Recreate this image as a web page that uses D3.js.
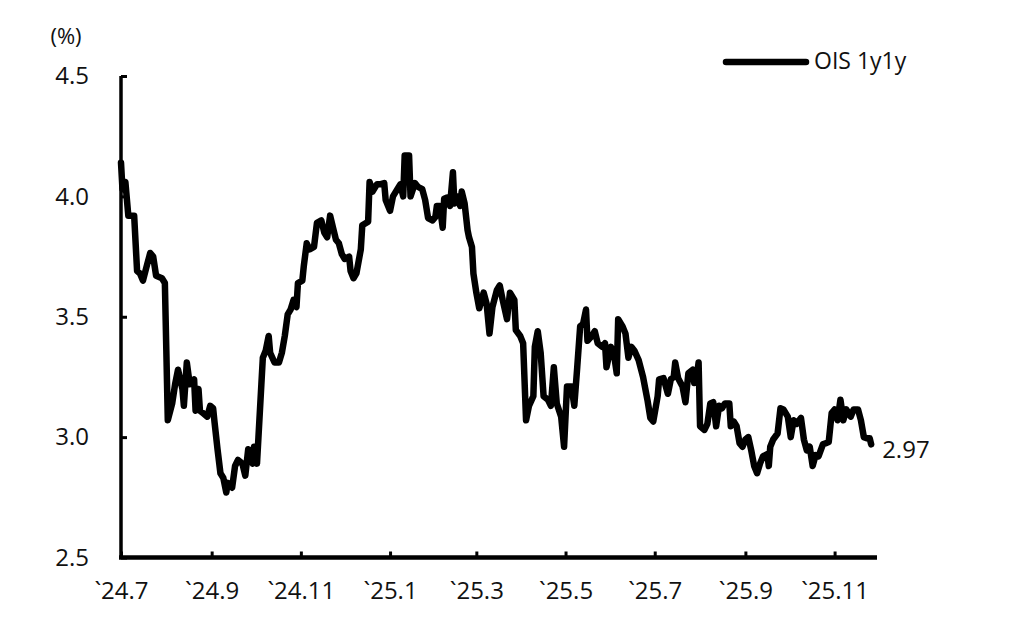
<!DOCTYPE html>
<html>
<head>
<meta charset="utf-8">
<script src="https://cdn.jsdelivr.net/npm/d3@7"></script>
<style>
  html, body { margin: 0; padding: 0; background: #fff; }
  svg text { font-family: "Open Sans", "Noto Sans", sans-serif; fill: #111; }
</style>
</head>
<body>
<svg id="chart" width="1020" height="622"></svg>
<script>
// ---- data ----
const seriesName = "OIS 1y1y";
const unitLabel = "(%)";
const lastLabel = "2.97";
const dates = [
  "2024-07-01","2024-07-02","2024-07-04","2024-07-06","2024-07-10","2024-07-12","2024-07-14","2024-07-16",
  "2024-07-19","2024-07-21","2024-07-23","2024-07-25","2024-07-29","2024-07-31","2024-08-01","2024-08-02",
  "2024-08-05","2024-08-07","2024-08-09","2024-08-12","2024-08-13","2024-08-15","2024-08-17","2024-08-20",
  "2024-08-21","2024-08-23","2024-08-24","2024-08-26","2024-08-29","2024-08-31","2024-09-02","2024-09-03",
  "2024-09-05","2024-09-07","2024-09-09","2024-09-11","2024-09-12","2024-09-15","2024-09-17","2024-09-19",
  "2024-09-22","2024-09-24","2024-09-26","2024-09-29","2024-09-30","2024-10-02","2024-10-03","2024-10-05",
  "2024-10-06","2024-10-08","2024-10-10","2024-10-11","2024-10-14","2024-10-17","2024-10-19","2024-10-21",
  "2024-10-23","2024-10-25","2024-10-27","2024-10-29","2024-10-30","2024-11-02","2024-11-03","2024-11-05",
  "2024-11-07","2024-11-10","2024-11-12","2024-11-15","2024-11-17","2024-11-19","2024-11-21","2024-11-23",
  "2024-11-25","2024-11-27","2024-11-29","2024-12-01","2024-12-04","2024-12-05","2024-12-07","2024-12-09",
  "2024-12-12","2024-12-13","2024-12-17","2024-12-18","2024-12-20","2024-12-23","2024-12-25","2024-12-28",
  "2024-12-29","2025-01-01","2025-01-03","2025-01-06","2025-01-08","2025-01-10","2025-01-11","2025-01-14",
  "2025-01-15","2025-01-18","2025-01-20","2025-01-23","2025-01-25","2025-01-27","2025-01-30","2025-02-01",
  "2025-02-02","2025-02-04","2025-02-06","2025-02-07","2025-02-09","2025-02-11","2025-02-13","2025-02-14",
  "2025-02-16","2025-02-18","2025-02-19","2025-02-21","2025-02-23","2025-02-24","2025-02-26","2025-02-27",
  "2025-03-01","2025-03-03","2025-03-06","2025-03-08","2025-03-10","2025-03-12","2025-03-15","2025-03-17",
  "2025-03-19","2025-03-22","2025-03-24","2025-03-27","2025-03-28","2025-03-31","2025-04-02","2025-04-04",
  "2025-04-06","2025-04-09","2025-04-10","2025-04-12","2025-04-14","2025-04-16","2025-04-19","2025-04-21",
  "2025-04-23","2025-04-25","2025-04-28","2025-04-30","2025-05-02","2025-05-05","2025-05-07","2025-05-09",
  "2025-05-11","2025-05-13","2025-05-15","2025-05-16","2025-05-19","2025-05-21","2025-05-23","2025-05-26",
  "2025-05-28","2025-05-29","2025-06-01","2025-06-03","2025-06-05","2025-06-06","2025-06-09","2025-06-11",
  "2025-06-13","2025-06-15","2025-06-17","2025-06-20","2025-06-23","2025-06-26","2025-06-28","2025-06-30",
  "2025-07-03","2025-07-04","2025-07-07","2025-07-10","2025-07-12","2025-07-14","2025-07-15","2025-07-17",
  "2025-07-20","2025-07-22","2025-07-24","2025-07-27","2025-07-28","2025-07-30","2025-07-31","2025-08-01",
  "2025-08-04","2025-08-06","2025-08-08","2025-08-10","2025-08-12","2025-08-14","2025-08-16","2025-08-18",
  "2025-08-21","2025-08-22","2025-08-24","2025-08-26","2025-08-28","2025-08-30","2025-09-01","2025-09-03",
  "2025-09-05","2025-09-07","2025-09-09","2025-09-11","2025-09-13","2025-09-16","2025-09-17","2025-09-18",
  "2025-09-20","2025-09-23","2025-09-25","2025-09-27","2025-09-30","2025-10-02","2025-10-04","2025-10-06",
  "2025-10-09","2025-10-11","2025-10-13","2025-10-15","2025-10-17","2025-10-19","2025-10-21","2025-10-24",
  "2025-10-26","2025-10-28","2025-10-30","2025-11-01","2025-11-03","2025-11-05","2025-11-07","2025-11-09",
  "2025-11-12","2025-11-14","2025-11-17","2025-11-19","2025-11-21","2025-11-23","2025-11-25","2025-11-26"
];
const values = [
  4.14,4.03,4.06,3.92,3.92,3.69,3.68,3.65,
  3.72,3.765,3.75,3.67,3.66,3.64,3.36,3.07,
  3.14,3.22,3.28,3.20,3.13,3.31,3.22,3.24,
  3.11,3.20,3.11,3.10,3.085,3.13,3.12,3.06,
  2.95,2.85,2.83,2.77,2.81,2.79,2.88,2.905,
  2.89,2.84,2.95,2.89,2.96,2.89,3.00,3.22,
  3.33,3.36,3.42,3.35,3.31,3.31,3.35,3.42,
  3.51,3.53,3.57,3.54,3.64,3.65,3.71,3.805,
  3.78,3.79,3.89,3.90,3.85,3.83,3.92,3.87,
  3.82,3.805,3.76,3.74,3.75,3.69,3.66,3.68,
  3.78,3.88,3.895,4.06,4.02,4.05,4.05,4.055,
  3.985,3.94,4.00,4.03,4.05,4.00,4.17,4.17,
  4.00,4.055,4.04,4.03,3.985,3.91,3.90,3.915,
  3.96,3.96,3.87,3.99,3.995,3.96,4.10,3.97,
  4.00,3.96,4.02,3.97,3.86,3.83,3.79,3.68,
  3.60,3.535,3.60,3.555,3.43,3.54,3.61,3.63,
  3.57,3.49,3.60,3.57,3.445,3.42,3.39,3.07,
  3.13,3.17,3.375,3.44,3.35,3.17,3.155,3.13,
  3.29,3.14,3.085,2.96,3.21,3.21,3.13,3.29,
  3.46,3.47,3.53,3.40,3.42,3.44,3.39,3.375,
  3.39,3.29,3.375,3.35,3.265,3.49,3.46,3.43,
  3.33,3.375,3.36,3.32,3.25,3.155,3.08,3.065,
  3.17,3.24,3.245,3.18,3.24,3.25,3.31,3.245,
  3.21,3.145,3.265,3.28,3.225,3.265,3.31,3.045,
  3.03,3.055,3.14,3.145,3.045,3.13,3.12,3.14,
  3.14,3.045,3.065,3.045,2.975,2.96,2.99,3.00,
  2.945,2.88,2.85,2.89,2.92,2.93,2.88,2.96,
  2.99,3.015,3.12,3.115,3.085,3.00,3.07,3.055,
  3.08,2.99,2.945,2.96,2.88,2.925,2.92,2.97,
  2.975,2.98,3.10,3.115,3.07,3.155,3.07,3.115,
  3.085,3.115,3.115,3.07,3.00,2.995,2.995,2.97
];
const xDomain = ["2024-07-01", "2025-11-30"];
const xTickDates = ["2024-07-01","2024-09-01","2024-11-01","2025-01-01","2025-03-01","2025-05-01","2025-07-01","2025-09-01","2025-11-01"];
const yTicks = [2.5, 3.0, 3.5, 4.0, 4.5];
const yDomain = [2.5, 4.5];

// ---- drawing ----
(function () {
const parse = d3.timeParse("%Y-%m-%d");
const data = dates.map((d, i) => ({ date: parse(d), value: values[i] }));

const svg = d3.select("#chart");
const mLeft = 121, mRight = 877, mTop = 76, mBottom = 557.5;

const x = d3.scaleTime().domain(xDomain.map(parse)).range([mLeft, mRight]);
const y = d3.scaleLinear().domain(yDomain).range([mBottom, mTop]);

const fmtX = d => "`" + d3.timeFormat("%y")(d) + "." + (d.getMonth() + 1);

// x axis
const gx = svg.append("g").attr("transform", `translate(0,${mBottom})`)
  .call(d3.axisBottom(x).tickValues(xTickDates.map(parse)).tickSize(-6).tickPadding(24).tickFormat(fmtX));
gx.select(".domain").attr("stroke", "#000").attr("stroke-width", 4.5).attr("d", `M${mLeft - 2},0H${mRight}`);
gx.selectAll(".tick line").attr("stroke", "#000").attr("stroke-width", 3);
gx.selectAll(".tick text").attr("font-size", 24).attr("fill", "#111");

// y axis
const gy = svg.append("g").attr("transform", `translate(${mLeft},0)`)
  .call(d3.axisLeft(y).tickValues(yTicks).tickSize(-6).tickPadding(32).tickFormat(d3.format(".1f")));
gy.select(".domain").attr("stroke", "#000").attr("stroke-width", 3.5).attr("d", `M0,${mTop}V${mBottom}`);
gy.selectAll(".tick line").attr("stroke", "#000").attr("stroke-width", 3);
gy.selectAll(".tick text").attr("font-size", 24).attr("fill", "#111");

// unit label
svg.append("text").attr("x", 66).attr("y", 44).attr("text-anchor", "middle")
  .attr("font-size", 22).text(unitLabel);

// line
const line = d3.line().x(d => x(d.date)).y(d => y(d.value));
svg.append("path").datum(data)
  .attr("fill", "none").attr("stroke", "#000").attr("stroke-width", 6.5)
  .attr("stroke-linejoin", "round").attr("stroke-linecap", "round")
  .attr("d", line);

// end label
const last = data[data.length - 1];
svg.append("text").attr("x", x(last.date) + 11).attr("y", y(last.value) + 14)
  .attr("font-size", 24).text(lastLabel);

// legend
svg.append("line").attr("x1", 726).attr("x2", 806).attr("y1", 62).attr("y2", 62)
  .attr("stroke", "#000").attr("stroke-width", 6.5).attr("stroke-linecap", "round");
svg.append("text").attr("x", 814).attr("y", 69).attr("font-size", 23).text(seriesName);
})();
</script>
</body>
</html>
